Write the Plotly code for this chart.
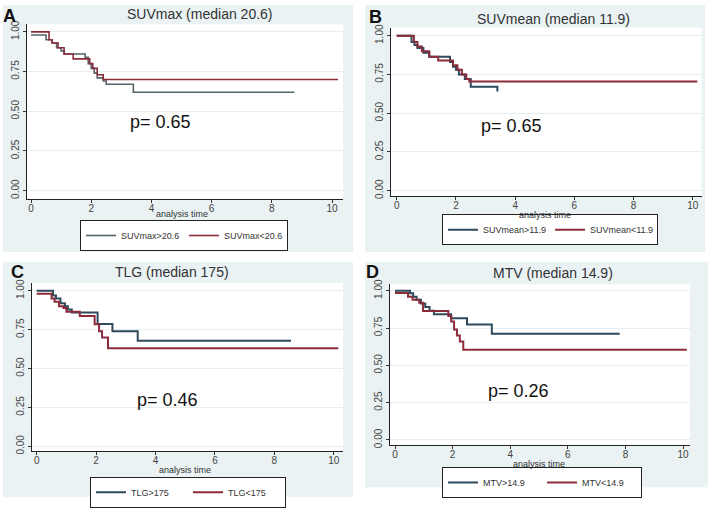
import plotly.graph_objects as go

W, H = 709, 508

# ---------------- data ----------------
titles = ["SUVmax (median 20.6)", "SUVmean (median 11.9)", "TLG (median 175)", "MTV (median 14.9)"]
letters = ["A", "B", "C", "D"]
p_values = ["p= 0.65", "p= 0.65", "p= 0.46", "p= 0.26"]
high_names = ["SUVmax>20.6", "SUVmean>11.9", "TLG>175", "MTV>14.9"]
low_names = ["SUVmax<20.6", "SUVmean<11.9", "TLG<175", "MTV<14.9"]

a_high_t = [0, 0.5, 0.7, 0.85, 1.0, 1.1, 1.8, 1.9, 2.0, 2.1, 2.2, 2.4, 2.5, 3.4, 8.75]
a_high_s = [0.98, 0.95, 0.93, 0.90, 0.88, 0.86, 0.84, 0.80, 0.77, 0.74, 0.71, 0.69, 0.67, 0.62, 0.62]
a_low_t = [0, 0.6, 0.7, 0.9, 1.1, 1.4, 1.95, 2.05, 2.2, 2.4, 10.2]
a_low_s = [1.0, 0.95, 0.93, 0.90, 0.86, 0.83, 0.80, 0.77, 0.73, 0.70, 0.70]

b_high_t = [0, 0.5, 0.6, 0.7, 0.9, 1.1, 1.8, 1.9, 2.0, 2.1, 2.3, 2.5, 3.4]
b_high_s = [1.0, 0.96, 0.94, 0.92, 0.89, 0.865, 0.83, 0.80, 0.78, 0.75, 0.72, 0.67, 0.64]
b_low_t = [0, 0.58, 0.7, 0.85, 1.1, 1.4, 1.9, 2.05, 2.2, 2.35, 2.45, 10.15]
b_low_s = [1.0, 0.96, 0.93, 0.90, 0.865, 0.84, 0.81, 0.78, 0.75, 0.72, 0.705, 0.705]

c_high_t = [0, 0.55, 0.65, 0.8, 0.95, 1.05, 1.18, 2.05, 2.55, 3.4, 8.56]
c_high_s = [1.0, 0.97, 0.95, 0.92, 0.90, 0.88, 0.86, 0.787, 0.74, 0.678, 0.678]
c_low_t = [0, 0.5, 0.6, 0.75, 0.9, 1.0, 1.45, 1.95, 2.1, 2.2, 2.4, 10.15]
c_low_s = [0.98, 0.95, 0.93, 0.90, 0.89, 0.865, 0.838, 0.785, 0.74, 0.70, 0.631, 0.631]

d_high_t = [0, 0.52, 0.63, 0.75, 0.9, 1.05, 1.2, 1.35, 1.95, 2.5, 3.36, 7.8]
d_high_s = [1.0, 0.983, 0.96, 0.94, 0.915, 0.89, 0.865, 0.842, 0.816, 0.773, 0.712, 0.712]
d_low_t = [0, 0.45, 0.61, 0.84, 0.97, 1.85, 1.95, 2.05, 2.15, 2.25, 2.37, 10.13]
d_low_s = [0.985, 0.96, 0.94, 0.92, 0.864, 0.83, 0.794, 0.74, 0.70, 0.66, 0.604, 0.604]

x_ticks = [0, 2, 4, 6, 8, 10]
y_ticks = [0, 0.25, 0.5, 0.75, 1.0]

series = [
    (a_high_t, a_high_s, a_low_t, a_low_s),
    (b_high_t, b_high_s, b_low_t, b_low_s),
    (c_high_t, c_high_s, c_low_t, c_low_s),
    (d_high_t, d_high_s, d_low_t, d_low_s),
]
p_pos = [(4.3, 0.43), (3.86, 0.417), (4.4, 0.297), (4.3, 0.328)]

# ---------------- layout geometry (pixels) ----------------
panel_px = [(3, 0, 353, 255), (365, 0, 705, 255), (3, 265, 353, 508), (365, 265, 708, 498)]
plot_px = [(27, 20, 343, 200), (391, 23.3, 701.7, 197), (31.7, 286.7, 343, 460.7), (390, 288.3, 690, 454)]
x_ranges = [[-0.133, 10.365], [-0.193, 10.30], [-0.168, 10.31], [-0.174, 10.24]]
y_ranges = [[-0.0506, 1.047], [-0.033, 1.0525], [-0.031, 1.052], [-0.032, 1.0435]]
title_px = [(200, 9), (553, 14), (172, 276), (553, 277)]
letter_px = [(9, 11), (376, 12), (17, 276), (373, 276)]
legend_px = [(80, 222), (442, 216), (90, 487), (442, 477)]
legend_entry = [58, 62, 52, 54]
xtitle_shift = [-15, -19, -19, -19]
line_widths = [1.6, 2, 2, 2]
high_colors = ["#56646c", "#2e4a5c", "#2e4a5c", "#2e4a5c"]
low_color = "#8c2c3b"

FONT = "Liberation Sans, Arial, sans-serif"
BG = "#eaf2f3"


def px2x(px):
    return px / W


def px2y(py):
    return 1 - py / H


fig = go.Figure()
shapes = []
annotations = []
layout_axes = {}

for i in range(4):
    sfx = "" if i == 0 else str(i + 1)
    xa, ya = "x" + sfx, "y" + sfx
    leg = "legend" if i == 0 else "legend" + str(i + 1)
    ht, hs, lt, ls = series[i]
    fig.add_trace(go.Scatter(x=ht, y=hs, mode="lines", line=dict(shape="hv", color=high_colors[i], width=line_widths[i]),
                             name=high_names[i], xaxis=xa, yaxis=ya, legend=leg))
    fig.add_trace(go.Scatter(x=lt, y=ls, mode="lines", line=dict(shape="hv", color=low_color, width=line_widths[i]),
                             name=low_names[i], xaxis=xa, yaxis=ya, legend=leg))

    # panel background and white plot region
    x0, y0, x1, y1 = panel_px[i]
    shapes.append(dict(type="rect", xref="paper", yref="paper", x0=px2x(x0), x1=px2x(x1), y0=px2y(y1), y1=px2y(y0),
                       fillcolor=BG, line=dict(width=0), layer="below"))
    l, t, r, b = plot_px[i]
    shapes.append(dict(type="rect", xref="paper", yref="paper", x0=px2x(l), x1=px2x(r), y0=px2y(b), y1=px2y(t),
                       fillcolor="white", line=dict(width=0), layer="below"))

    layout_axes["xaxis" + sfx] = dict(
        domain=[px2x(l), px2x(r)], range=x_ranges[i], anchor=ya, tickvals=x_ticks,
        showgrid=False, zeroline=False, showline=True, linecolor="#222", linewidth=1,
        ticks="outside", ticklen=3, tickcolor="#333", ticklabelstandoff=-3,
        tickfont=dict(size=10, color="#444", family=FONT),
    )
    layout_axes["yaxis" + sfx] = dict(
        domain=[px2y(b), px2y(t)], range=y_ranges[i], anchor=xa, tickvals=y_ticks, tickformat=".2f",
        showgrid=True, gridcolor="#e6eef0", gridwidth=1, zeroline=False, showline=True, linecolor="#222",
        linewidth=1, ticks="outside", ticklen=3, tickcolor="#333", tickangle=-90,
        tickfont=dict(size=10, color="#444", family=FONT),
    )

    # texts
    tx, ty = title_px[i]
    annotations.append(dict(text=titles[i], xref="paper", yref="paper", x=px2x(tx), y=px2y(ty), showarrow=False,
                            xanchor="center", yanchor="middle", font=dict(size=14, color="#333", family=FONT)))
    lx, ly = letter_px[i]
    annotations.append(dict(text="<b>" + letters[i] + "</b>", xref="paper", yref="paper", x=px2x(lx), y=px2y(ly),
                            showarrow=False, xanchor="center", yanchor="middle",
                            font=dict(size=18, color="#111", family=FONT)))
    pxv, pyv = p_pos[i]
    annotations.append(dict(text=p_values[i], xref=xa, yref=ya, x=pxv, y=pyv, showarrow=False,
                            xanchor="center", yanchor="middle", font=dict(size=18, color="#111", family=FONT)))
    annotations.append(dict(text="analysis time", xref=xa, yref=ya + " domain", x=5, y=0, yshift=xtitle_shift[i],
                            showarrow=False, xanchor="center", yanchor="middle",
                            font=dict(size=9, color="#333", family=FONT)))

    gx, gy = legend_px[i]
    layout_axes[leg] = dict(
        x=px2x(gx), y=px2y(gy), xanchor="left", yanchor="top", orientation="h",
        bgcolor="white", bordercolor="#222", borderwidth=1,
        font=dict(size=9, color="#333", family=FONT),
        entrywidth=legend_entry[i], entrywidthmode="pixels", tracegroupgap=0, itemwidth=30,
    )

fig.update_layout(
    width=W, height=H, margin=dict(l=0, r=0, t=0, b=0),
    paper_bgcolor="white", plot_bgcolor="rgba(0,0,0,0)",
    shapes=shapes, annotations=annotations, showlegend=True,
    font=dict(family=FONT),
    **layout_axes,
)

fig.write_html("out.html", config={"displayModeBar": False},
               post_script="document.body.style.margin='0';")
